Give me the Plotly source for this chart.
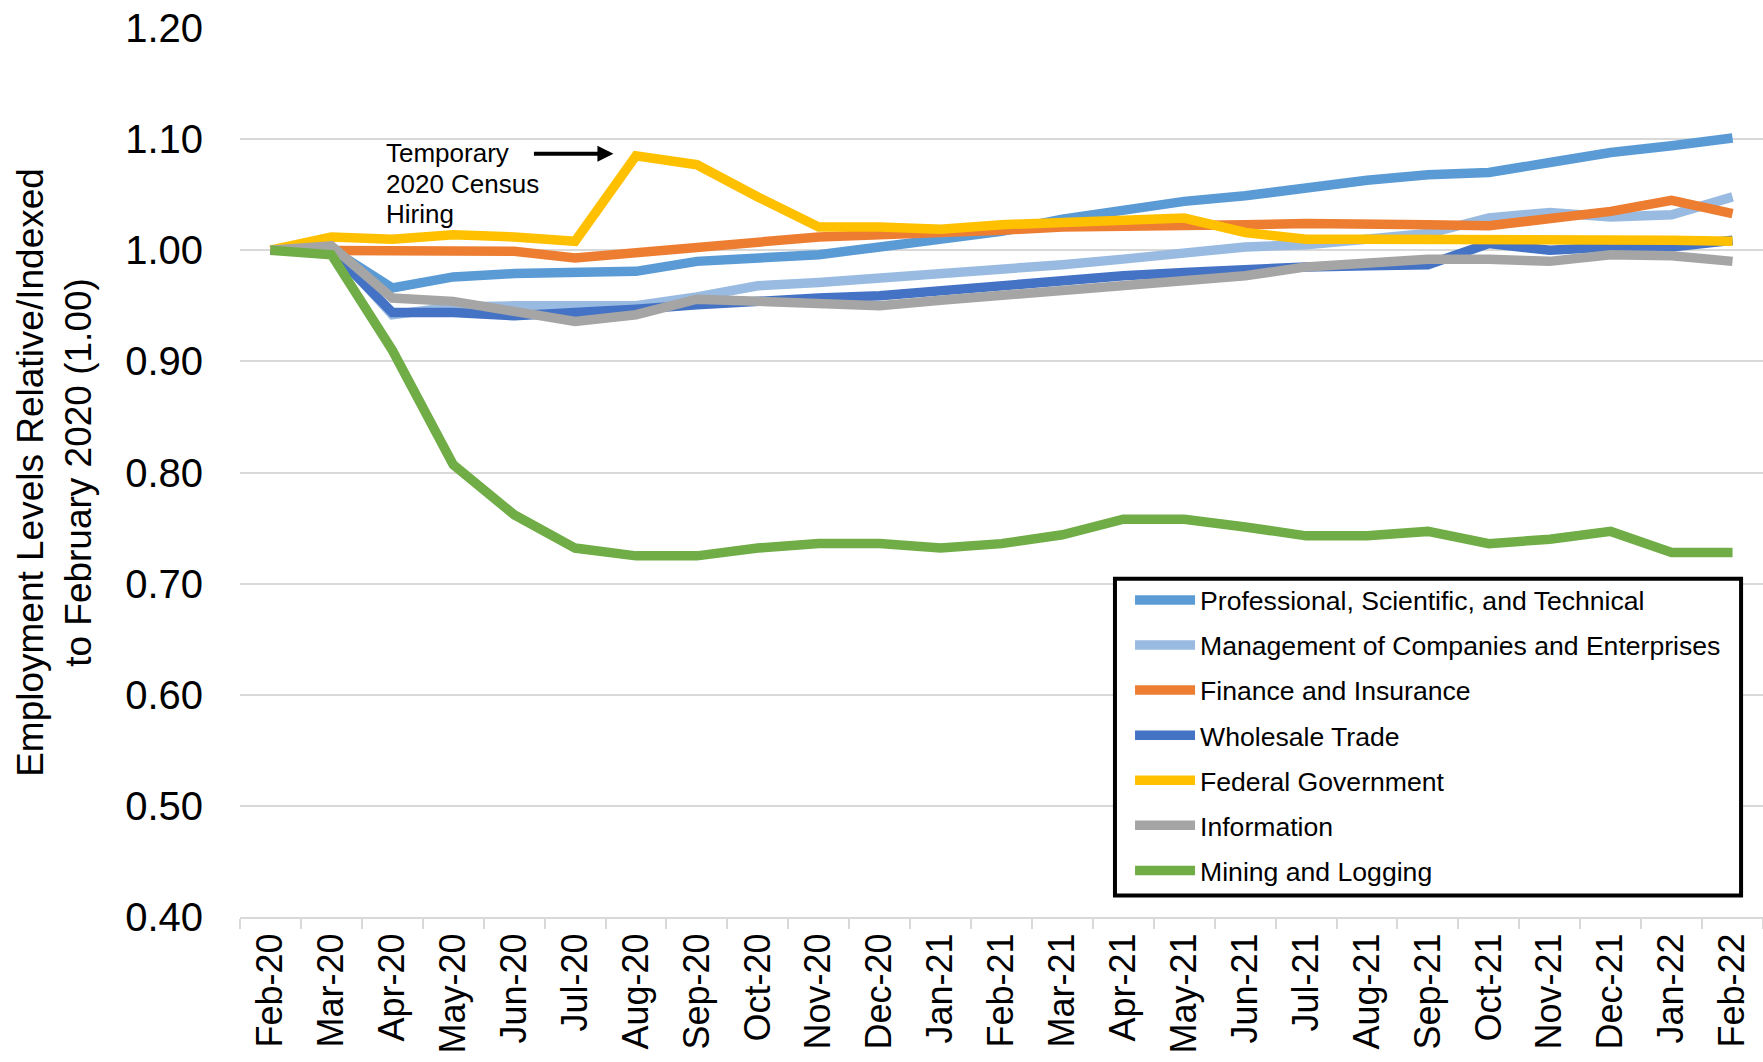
import plotly.graph_objects as go

months = ["Feb-20", "Mar-20", "Apr-20", "May-20", "Jun-20", "Jul-20", "Aug-20", "Sep-20",
          "Oct-20", "Nov-20", "Dec-20", "Jan-21", "Feb-21", "Mar-21", "Apr-21", "May-21",
          "Jun-21", "Jul-21", "Aug-21", "Sep-21", "Oct-21", "Nov-21", "Dec-21", "Jan-22", "Feb-22"]

professional = [1.000, 1.001, 0.966, 0.976, 0.979, 0.981, 0.981, 0.990, 0.993, 0.996, 1.003, 1.009,
                1.017, 1.028, 1.036, 1.044, 1.049, 1.057, 1.063, 1.068, 1.070, 1.079, 1.088, 1.094, 1.101]
management = [1.000, 1.002, 0.942, 0.949, 0.950, 0.951, 0.950, 0.958, 0.968, 0.971, 0.975, 0.977,
              0.982, 0.987, 0.992, 0.997, 1.003, 1.005, 1.010, 1.015, 1.029, 1.034, 1.030, 1.032, 1.048]
finance = [1.000, 1.000, 0.998, 0.998, 0.999, 0.993, 0.998, 1.004, 1.008, 1.012, 1.014, 1.015,
           1.018, 1.021, 1.021, 1.022, 1.023, 1.024, 1.0245, 1.023, 1.022, 1.028, 1.035, 1.045, 1.033]
wholesale = [1.000, 1.000, 0.944, 0.944, 0.941, 0.943, 0.947, 0.951, 0.955, 0.957, 0.959, 0.964,
             0.968, 0.973, 0.977, 0.980, 0.983, 0.985, 0.986, 0.987, 1.006, 1.000, 1.003, 1.003, 1.009]
federal = [1.000, 1.012, 1.010, 1.014, 1.012, 1.008, 1.085, 1.077, 1.048, 1.021, 1.021, 1.019,
           1.023, 1.025, 1.027, 1.029, 1.016, 1.010, 1.010, 1.010, 1.010, 1.011, 1.011, 1.009, 1.008]
information = [1.000, 1.004, 0.957, 0.954, 0.945, 0.936, 0.942, 0.956, 0.954, 0.953, 0.950, 0.955,
               0.959, 0.963, 0.968, 0.972, 0.977, 0.985, 0.989, 0.992, 0.992, 0.990, 0.996, 0.995, 0.990]
mining = [1.000, 0.996, 0.910, 0.807, 0.762, 0.732, 0.725, 0.725, 0.732, 0.736, 0.736, 0.732,
          0.736, 0.744, 0.758, 0.758, 0.751, 0.743, 0.743, 0.747, 0.736, 0.740, 0.747, 0.728, 0.728]

series_names = ["Professional, Scientific, and Technical",
                "Management of Companies and Enterprises",
                "Finance and Insurance",
                "Wholesale Trade",
                "Federal Government",
                "Information",
                "Mining and Logging"]
series_values = [professional, management, finance, wholesale, federal, information, mining]
series_colors = ["#5B9BD5", "#9ABBE1", "#ED7D31", "#4472C4", "#FFC000", "#A5A5A5", "#70AD47"]

annotation_lines = ["Temporary", "2020 Census", "Hiring"]
annotation_y = [1.0878, 1.0600, 1.0330]

FONT = "Liberation Sans, Arial, sans-serif"

fig = go.Figure()
for i, (name, vals, col) in enumerate(zip(series_names, series_values, series_colors)):
    fig.add_trace(go.Scatter(
        x=months, y=vals, name=name, mode="lines",
        line=dict(color=col, width=9.5),
        legendgroup=f"g{i}",
    ))

fig.add_annotation(
    x=5.63, y=1.0869, xref="x", yref="y",
    ax=-81, ay=0, axref="pixel", ayref="pixel",
    showarrow=True, arrowhead=2, arrowsize=0.8, arrowwidth=4, arrowcolor="black",
    text="",
)
for line_text, ly in zip(annotation_lines, annotation_y):
    fig.add_annotation(
        x=1.87, y=ly, xref="x", yref="y",
        xanchor="left", yanchor="middle", align="left",
        showarrow=False, text=line_text,
        font=dict(family=FONT, size=26, color="black"),
    )

# legend frame
fig.add_shape(type="rect", xref="paper", yref="paper",
              x0=0.5745, x1=0.9856, y0=0.0242, y1=0.3806,
              line=dict(color="black", width=4), fillcolor="white", layer="above")

fig.update_layout(
    width=1763, height=1062,
    margin=dict(l=240, r=0, t=28, b=145, autoexpand=False),
    paper_bgcolor="white", plot_bgcolor="white",
    font=dict(family=FONT, color="black"),
    showlegend=True,
    legend=dict(
        x=0.5844, y=0.3834, xanchor="left", yanchor="top",
        bgcolor="rgba(0,0,0,0)", borderwidth=0,
        font=dict(family=FONT, size=26.6, color="black"),
        tracegroupgap=7.5, itemwidth=60,
    ),
)
fig.update_xaxes(
    type="category", range=[-0.5, 24.5],
    tickangle=-90,
    tickfont=dict(family=FONT, size=36, color="black"),
    ticks="outside", tickson="boundaries", ticklen=10, tickcolor="#D9D9D9", tickwidth=2,
    showline=True, linecolor="#D9D9D9", linewidth=2,
    showgrid=False,
)
fig.update_yaxes(
    range=[0.4, 1.2], dtick=0.1, tickformat=".2f",
    tickfont=dict(family=FONT, size=40, color="black"),
    showgrid=True, gridcolor="#D9D9D9", gridwidth=2,
    zeroline=False, showline=False, ticks="",
    ticklabelstandoff=36,
    title=dict(text="Employment Levels Relative/Indexed<br>to February 2020 (1.00)",
               font=dict(family=FONT, size=37, color="black"), standoff=22),
)

fig.write_html("out.html", config={"displayModeBar": False},
               post_script="document.body.style.margin='0';document.body.style.overflow='hidden';")
